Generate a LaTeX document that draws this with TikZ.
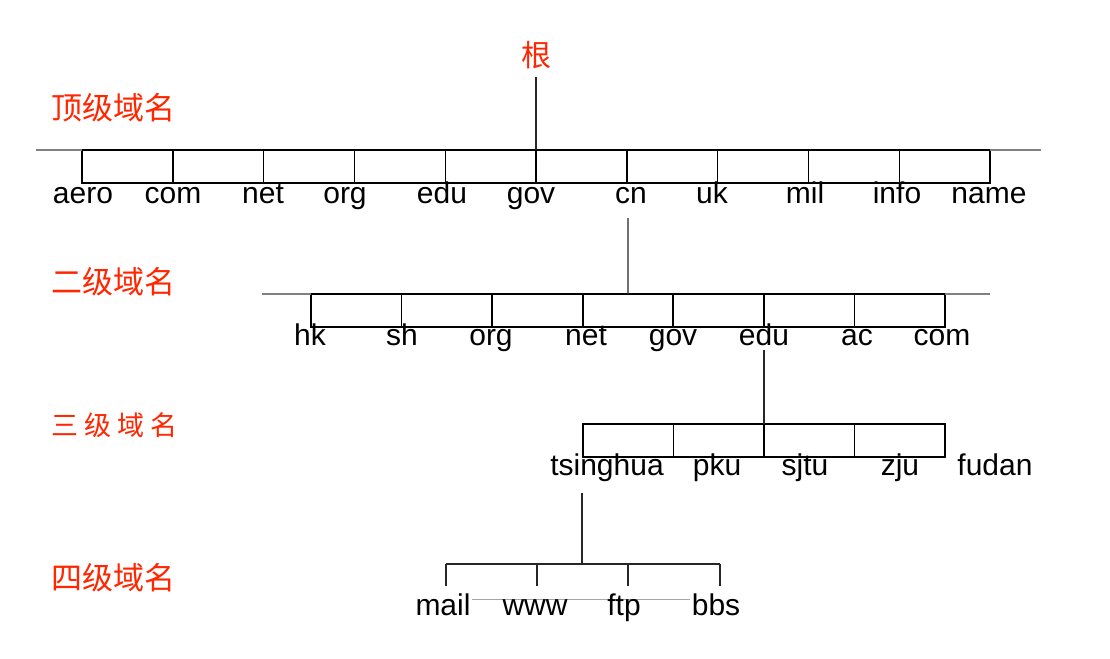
\documentclass[tikz,border=0pt]{standalone}
\usepackage{fontspec}
\setmainfont{Liberation Sans}
\newfontfamily\cjk{Noto Sans CJK SC}
\definecolor{lblred}{RGB}{255,38,0}
\begin{document}
\begin{tikzpicture}[x=1pt,y=-1pt,
  cell/.style={draw, line width=1.4pt, minimum width=#1, minimum height=33pt, inner sep=0pt, outer sep=0pt},
  cell/.default=90.8pt,
  lab/.style={anchor=base, inner sep=0pt, font=\fontsize{30}{35}\selectfont},
  lvl/.style={anchor=west, text=lblred, inner sep=0pt, font=\cjk\fontsize{31}{36}\selectfont},
  wire/.style={line width=1.1pt, draw=black!85},
  endline/.style={line width=1.2pt, draw=gray}]
\useasboundingbox[fill=white] (0,0) rectangle (1110,658);

% level labels
\node[lvl] (L1) at (51,108) {顶级域名};
\node[lvl] (L2) at (51,282) {二级域名};
\node[lvl, font=\cjk\fontsize{27}{32}\selectfont] (L3) at (51,425) {三 级 域 名};
\node[lvl] (L4) at (51,578) {四级域名};

% root
\node[text=lblred, inner sep=0pt, font=\cjk\fontsize{30}{35}\selectfont] (root) at (536,55) {根};

% top level boxes
\foreach \i in {1,...,10}
  \node[cell] (t\i) at ({82+90.8*(\i-0.5)},166.5) {};
\coordinate (tL) at (36,150);
\coordinate (tR) at (1041,150);
\draw[endline] (tL) -- (t1.north west);
\draw[endline] (t10.north east) -- (tR);
\draw[wire, shorten <=8pt] (root.south) -- (t5.north east);

\foreach \n/\x [count=\k] in {aero/83, com/173, net/263, org/345, edu/442, gov/531, cn/631, uk/712, mil/805, info/897, name/989}
  \node[lab] (a\k) at (\x,203) {\n};

% second level boxes
\foreach \i in {1,...,7}
  \node[cell] (s\i) at ({311+90.57*(\i-0.5)},310.5) {};
\coordinate (sL) at (262,294);
\coordinate (sR) at (990,294);
\draw[endline] (sL) -- (s1.north west);
\draw[endline] (s7.north east) -- (sR);
\coordinate (cnDown) at (628,218);
\draw[wire] (cnDown) -- (s4.north);

\foreach \n/\x [count=\k] in {hk/310, sh/402, org/491, net/586, gov/673, edu/764, ac/857, com/942}
  \node[lab] (b\k) at (\x,345) {\n};

% third level boxes
\foreach \i in {1,...,4}
  \node[cell=90.5pt] (u\i) at ({583+90.5*(\i-0.5)},440.5) {};
\coordinate (eduDown) at (764,350);
\draw[wire] (eduDown) -- (u2.north east);

\foreach \n/\x [count=\k] in {tsinghua/607, pku/717, sjtu/805, zju/900, fudan/995}
  \node[lab] (c\k) at (\x,475) {\n};

% fourth level fork
\coordinate (tsDown) at (582,493);
\coordinate (fork) at (582,564);
\coordinate (f1) at (446,564);
\coordinate (f2) at (537,564);
\coordinate (f3) at (628,564);
\coordinate (f4) at (720,564);
\draw[wire] (tsDown) -- (fork);
\draw[wire] (f1) -- (f4);
\foreach \i in {1,...,4}
  \draw[wire] (f\i) -- ++(0,22);
\coordinate (g1) at (472,599);
\coordinate (g2) at (690,599);
\draw[line width=0.8pt, draw=gray!70] (g1) -- (g2);

\foreach \n/\x [count=\k] in {mail/443, www/535, ftp/624, bbs/716}
  \node[lab] (d\k) at (\x,615) {\n};
\end{tikzpicture}
\end{document}
